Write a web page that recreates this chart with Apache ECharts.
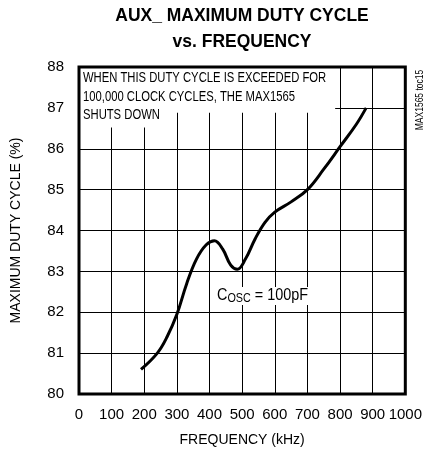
<!DOCTYPE html>
<html><head><meta charset="utf-8">
<script src="https://cdn.jsdelivr.net/npm/echarts@6/dist/echarts.min.js"></script>
<style>html,body{margin:0;padding:0;background:#fff}#c{width:425px;height:456px}</style>
</head><body><div id="c"></div>
<script>
var freq = [190, 240, 270, 300, 330, 360, 390, 415, 440, 465, 485, 510, 540, 570, 600, 650, 700, 750, 800, 850, 880];
var duty = [80.6, 81.0, 81.4, 81.95, 82.7, 83.3, 83.65, 83.75, 83.55, 83.15, 83.05, 83.3, 83.8, 84.2, 84.45, 84.7, 85.0, 85.5, 86.05, 86.6, 87.0];
var xTicks = [0, 100, 200, 300, 400, 500, 600, 700, 800, 900, 1000];
var yTicks = [80, 81, 82, 83, 84, 85, 86, 87, 88];
var FONT = "'Liberation Sans', Arial, sans-serif";
var chart = echarts.init(document.getElementById('c'));
chart.setOption({
  animation: false,
  backgroundColor: '#fff',
  grid: {left: 79, right: 19, top: 67, bottom: 62, show: true, borderColor: '#000', borderWidth: 3, backgroundColor: 'transparent', z: 5},
  xAxis: {
    type: 'value', min: xTicks[0], max: xTicks[xTicks.length-1], interval: 100,
    name: 'FREQUENCY (kHz)', nameLocation: 'middle', nameGap: 39,
    nameTextStyle: {fontFamily: FONT, fontSize: 14, color: '#000'},
    axisLine: {show: false}, axisTick: {show: false},
    axisLabel: {fontFamily: FONT, fontSize: 15, color: '#000', margin: 13, showMaxLabel: true, showMinLabel: true, hideOverlap: false,
      formatter: function(v){ return String(v); }},
    splitLine: {show: true, lineStyle: {color: '#000', width: 1}}
  },
  yAxis: {
    type: 'value', min: yTicks[0], max: yTicks[yTicks.length-1], interval: 1,
    name: 'MAXIMUM DUTY CYCLE (%)', nameLocation: 'middle', nameGap: 56, nameRotate: 90,
    nameTextStyle: {fontFamily: FONT, fontSize: 14, color: '#000'},
    axisLine: {show: false}, axisTick: {show: false},
    axisLabel: {fontFamily: FONT, fontSize: 15, color: '#000', margin: 15, showMaxLabel: true, showMinLabel: true,
      formatter: function(v){ return String(v); }},
    splitLine: {show: true, lineStyle: {color: '#000', width: 1}}
  },
  series: [{
    type: 'line', smooth: 0.4, symbol: 'none',
    data: freq.map(function(f, i){ return [f, duty[i]]; }),
    lineStyle: {color: '#000', width: 3},
    markArea: {
      silent: true,
      itemStyle: {color: '#fff'},
      data: [
        [{coord: [0, 88]}, {coord: [785, 86.88]}],
        [{coord: [0, 86.9]}, {coord: [265, 86.52]}]
      ]
    }
  }],
  graphic: [
    {type: 'text', x: 242, y: 3, scaleX: 0.92, z: 10, style: {text: 'AUX_ MAXIMUM DUTY CYCLE\nvs. FREQUENCY', font: 'bold 19px ' + FONT, lineHeight: 26, fill: '#000', align: 'center'}},
    {type: 'text', x: 83, y: 69, scaleX: 0.75, z: 10, style: {text: 'WHEN THIS DUTY CYCLE IS EXCEEDED FOR\n100,000 CLOCK CYCLES, THE MAX1565\nSHUTS DOWN', font: '15px ' + FONT, lineHeight: 18.5, fill: '#000'}},
    {type: 'text', x: 217, y: 287, scaleX: 0.9, z: 10, style: {
      rich: {
        c: {fontFamily: FONT, fontSize: 16, color: '#000', backgroundColor: '#fff'},
        s: {fontFamily: FONT, fontSize: 12, color: '#000', verticalAlign: 'bottom', backgroundColor: '#fff', padding: [6, 0, 0, 0]}
      },
      text: '{c|C}{s|OSC}{c| = 100pF}', backgroundColor: '#fff'
    }},
    {type: 'text', x: 420, y: 100, rotation: Math.PI/2, scaleX: 0.85, z: 10, style: {text: 'MAX1565 toc15', font: '10px ' + FONT, fill: '#000', align: 'center', verticalAlign: 'middle'}}
  ]
});
</script></body></html>
